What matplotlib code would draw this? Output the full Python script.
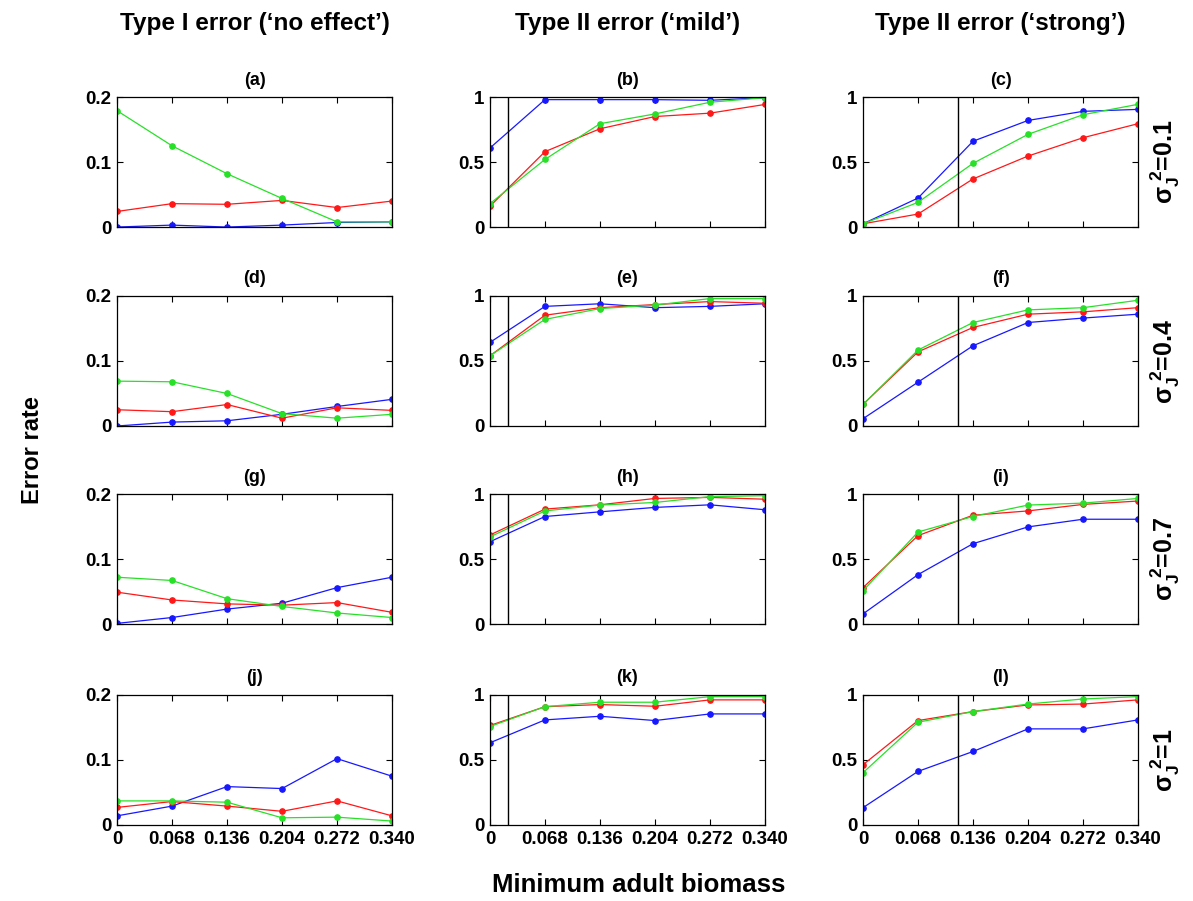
import matplotlib
matplotlib.use('Agg')
import matplotlib.pyplot as plt
import numpy as np

plt.rcParams['font.family'] = 'Liberation Sans'
plt.rcParams['font.weight'] = 'bold'
plt.rcParams['mathtext.fontset'] = 'custom'
plt.rcParams['mathtext.rm'] = 'Liberation Sans:bold'
plt.rcParams['mathtext.it'] = 'Liberation Sans:bold'
plt.rcParams['mathtext.bf'] = 'Liberation Sans:bold'

# minimum adult biomass levels
x = [0, 0.068, 0.136, 0.204, 0.272, 0.340]
xlabels = ['0', '0.068', '0.136', '0.204', '0.272', '0.340']

col_titles = ["Type I error (\u2018no effect\u2019)",
              "Type II error (\u2018mild\u2019)",
              "Type II error (\u2018strong\u2019)"]
row_labels = ['0.1', '0.4', '0.7', '1']
panel_letters = 'abcdefghijkl'

# vertical reference lines for the mild / strong columns
vline_x = [None, 0.022, 0.117]

# error rates per panel: blue, red, green
blue = [
    [0.000, 0.003, 0.000, 0.003, 0.007, 0.008],
    [0.608, 0.980, 0.980, 0.980, 0.975, 0.995],
    [0.025, 0.223, 0.660, 0.820, 0.890, 0.905],
    [0.000, 0.006, 0.008, 0.018, 0.030, 0.041],
    [0.643, 0.920, 0.940, 0.910, 0.920, 0.940],
    [0.056, 0.337, 0.617, 0.796, 0.830, 0.860],
    [0.001, 0.010, 0.023, 0.032, 0.056, 0.072],
    [0.633, 0.827, 0.863, 0.897, 0.917, 0.879],
    [0.078, 0.380, 0.618, 0.747, 0.806, 0.806],
    [0.014, 0.029, 0.059, 0.056, 0.102, 0.075],
    [0.632, 0.808, 0.836, 0.803, 0.854, 0.854],
    [0.133, 0.412, 0.565, 0.739, 0.739, 0.808],
]
red = [
    [0.024, 0.036, 0.035, 0.041, 0.030, 0.040],
    [0.160, 0.580, 0.756, 0.850, 0.876, 0.943],
    [0.025, 0.100, 0.370, 0.546, 0.687, 0.795],
    [0.025, 0.022, 0.033, 0.012, 0.028, 0.024],
    [0.540, 0.852, 0.910, 0.934, 0.957, 0.944],
    [0.166, 0.570, 0.758, 0.860, 0.878, 0.910],
    [0.049, 0.037, 0.031, 0.029, 0.033, 0.018],
    [0.685, 0.884, 0.917, 0.966, 0.974, 0.960],
    [0.280, 0.680, 0.837, 0.870, 0.920, 0.946],
    [0.027, 0.036, 0.029, 0.021, 0.037, 0.014],
    [0.765, 0.910, 0.926, 0.913, 0.962, 0.962],
    [0.463, 0.803, 0.872, 0.923, 0.930, 0.962],
]
green = [
    [0.179, 0.125, 0.082, 0.044, 0.008, 0.008],
    [0.180, 0.520, 0.795, 0.870, 0.960, 0.995],
    [0.025, 0.190, 0.490, 0.713, 0.864, 0.944],
    [0.069, 0.068, 0.050, 0.019, 0.012, 0.018],
    [0.540, 0.820, 0.903, 0.930, 0.980, 0.980],
    [0.166, 0.584, 0.796, 0.893, 0.910, 0.967],
    [0.072, 0.067, 0.039, 0.027, 0.017, 0.010],
    [0.670, 0.870, 0.915, 0.935, 0.980, 0.987],
    [0.256, 0.708, 0.827, 0.915, 0.930, 0.966],
    [0.037, 0.037, 0.035, 0.011, 0.012, 0.006],
    [0.757, 0.910, 0.944, 0.944, 0.987, 0.987],
    [0.402, 0.790, 0.872, 0.930, 0.969, 0.987],
]

fig = plt.figure(figsize=(11.93, 9.01), dpi=100)

lefts = [0.0981, 0.4107, 0.7234]
bottoms = [0.748, 0.5272, 0.3074, 0.0844]
w, h = 0.2305, 0.1443

for r in range(4):
    for c in range(3):
        i = r * 3 + c
        ax = fig.add_axes([lefts[c], bottoms[r], w, h])
        for ys, col in zip((blue[i], red[i], green[i]), ('#1818ff', '#ff1818', '#28e028')):
            ax.plot(x, ys, '-', color=col, lw=0.9, marker='o', ms=3.8)
        if vline_x[c] is not None:
            ax.axvline(vline_x[c], color='k', lw=1.0)
        ax.set_xlim(0, 0.34)
        if c == 0:
            ax.set_ylim(0, 0.2)
            ax.set_yticks([0, 0.1, 0.2])
            ax.set_yticklabels(['0', '0.1', '0.2'])
        else:
            ax.set_ylim(0, 1)
            ax.set_yticks([0, 0.5, 1])
            ax.set_yticklabels(['0', '0.5', '1'])
        ax.set_xticks(x)
        if r == 3:
            ax.set_xticklabels(xlabels)
        else:
            ax.set_xticklabels([])
        ax.tick_params(direction='in', top=True, right=True, labelsize=13.5,
                       length=4, width=0.8, pad=4)
        for s in ax.spines.values():
            s.set_linewidth(0.9)
        ax.set_title('(%s)' % panel_letters[i], fontsize=13, fontweight='bold', pad=9)
        if c == 2:
            ax.text(1.1, 0.5, r'$\sigma_J^{\ 2}$=' + row_labels[r], transform=ax.transAxes,
                    rotation=90, ha='center', va='center', fontsize=18, fontweight='bold')

for c in range(3):
    fig.text(lefts[c] + w / 2, 0.974, col_titles[c], ha='center', va='center',
             fontsize=17.5, fontweight='bold')

fig.text(0.027, 0.5, 'Error rate', rotation=90, ha='center', va='center',
         fontsize=17, fontweight='bold')
fig.text(0.535, 0.018, 'Minimum adult biomass', ha='center', va='center',
         fontsize=18.5, fontweight='bold')

fig.savefig('out.png', dpi=100)
